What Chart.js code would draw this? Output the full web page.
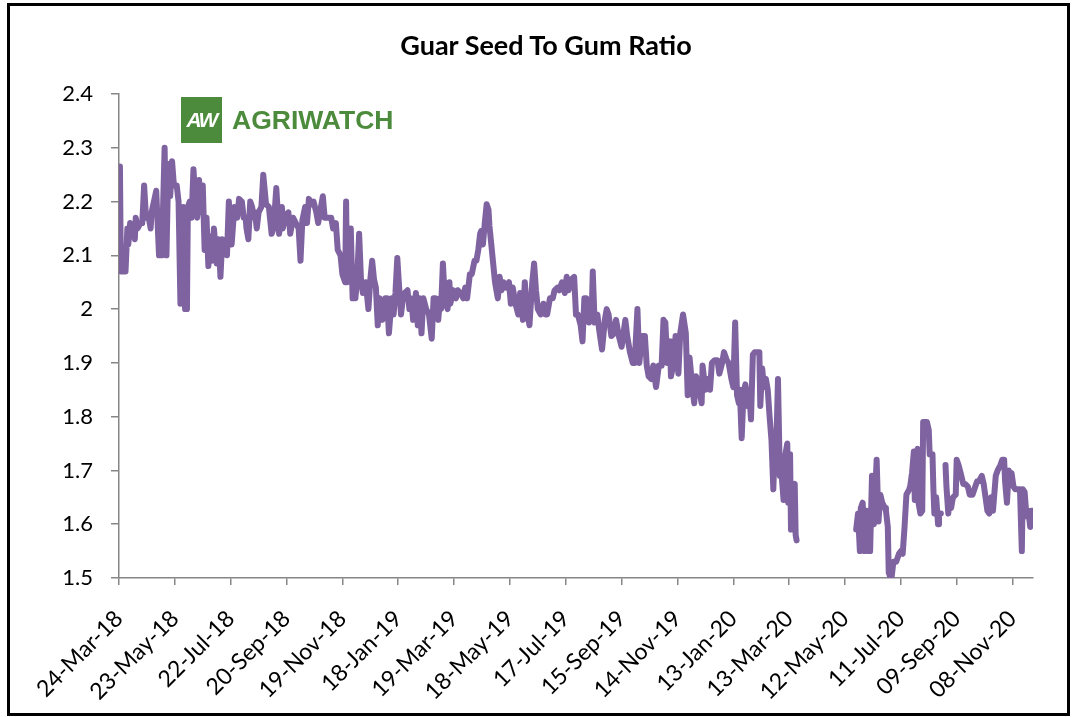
<!DOCTYPE html>
<html>
<head>
<meta charset="utf-8">
<script src="https://cdn.jsdelivr.net/npm/chart.js@4.4.1/dist/chart.umd.min.js"></script>
<style>
  html, body { margin: 0; padding: 0; background: #fff; }
  #wrap { position: relative; width: 1073px; height: 717px; overflow: hidden; }
  #chart { position: absolute; left: 0; top: 0; }
  #title { position: absolute; left: 0; top: 28px; width: 1092px; text-align: center;
           font: bold 27px Lato, "Open Sans", sans-serif; color: #000; }
  #frame { position: absolute; left: 7px; top: 3px; width: 1063px; height: 713px;
           box-sizing: border-box; border: 3px solid #000; pointer-events: none; }
  #logo { position: absolute; left: 181px; top: 97px; height: 46px; display: flex; align-items: center; }
  #logo .box { width: 41px; height: 46px; background: #4b8b3b; color: #fff;
               font: italic bold 21px "Liberation Sans", Arial, sans-serif; letter-spacing: -2px;
               display: flex; align-items: center; justify-content: center; }
  #logo .name { margin-left: 10px; color: #4b8b3b; font: bold 26.5px "Liberation Sans", Arial, sans-serif; }
</style>
</head>
<body>
<div id="wrap">
  <canvas id="chart" width="1073" height="717"></canvas>
  <div id="title"></div>
  <div id="logo"><div class="box">AW</div><div class="name">AGRIWATCH</div></div>
  <div id="frame"></div>
</div>
<script>
// Guar seed / gum ratio, days counted from 24-Mar-2018 (null = no quotes)
const startLabel = '24-Mar-18';
const axisEndLabel = '30-Nov-20';
const chartTitle = 'Guar Seed To Gum Ratio';

const tickLabels = ['24-Mar-18', '23-May-18', '22-Jul-18', '20-Sep-18', '19-Nov-18',
  '18-Jan-19', '19-Mar-19', '18-May-19', '17-Jul-19', '15-Sep-19', '14-Nov-19',
  '13-Jan-20', '13-Mar-20', '12-May-20', '11-Jul-20', '09-Sep-20', '08-Nov-20'];

const yTicks = [1.5, 1.6, 1.7, 1.8, 1.9, 2.0, 2.1, 2.2, 2.3, 2.4];

const dayOffsets = [
  1, 2, 7, 9, 10, 12, 15, 17, 18, 20, 23, 25, 27, 29, 32, 34, 35, 40, 43, 46,
  49, 51, 53, 55, 57, 59, 62, 64, 66, 68, 69, 71, 73, 74, 76, 78, 80, 82, 84, 86,
  88, 90, 92, 94, 96, 98, 100, 102, 105, 107, 109, 111, 114, 116, 118, 121, 124, 127, 129, 132,
  134, 136, 137, 139, 141, 143, 145, 146, 148, 150, 153, 155, 158, 161, 164, 166, 169, 172, 175, 176,
  179, 182, 184, 187, 190, 193, 195, 197, 200, 202, 204, 207, 209, 212, 214, 217, 219, 221, 225, 228,
  230, 233, 235, 238, 240, 243, 244, 245, 247, 249, 251, 253, 254, 256, 258, 260, 262, 265, 268, 270,
  272, 274, 276, 278, 280, 283, 286, 288, 290, 293, 295, 297, 299, 301, 303, 305, 307, 310, 312, 314,
  316, 319, 321, 323, 325, 327, 330, 333, 336, 338, 340, 343, 345, 346, 348, 350, 353, 355, 356, 359,
  362, 364, 367, 370, 372, 374, 377, 379, 382, 384, 386, 388, 389, 391, 393, 395, 397, 398, 400, 402,
  404, 407, 409, 411, 413, 416, 419, 421, 423, 426, 429, 431, 434, 436, 438, 441, 444, 446, 448, 450,
  453, 456, 458, 460, 463, 466, 468, 471, 473, 476, 479, 481, 483, 486, 489, 491, 493, 496, 498, 500,
  502, 505, 508, 509, 511, 514, 516, 519, 522, 524, 526, 529, 532, 534, 537, 540, 542, 544, 546, 549,
  552, 554, 557, 559, 562, 565, 567, 569, 572, 574, 577, 580, 583, 585, 587, 589, 592, 593, 596, 598,
  601, 603, 606, 609, 611, 613, 616, 618, 620, 623, 626, 627, 630, 632, 635, 637, 640, 643, 645, 648,
  650, 653, 655, 658, 660, 662, 664, 666, 667, 669, 671, 673, 675, 677, 679, 681, 683, 686, 688, 689,
  691, 693, 695, 697, 699, 701, 703, 704, 706, 708, 710, 712, 714, 716, 718, 719, 721, 722, 724, 726,
  727, 728, 760,
  792, 794, 796, 797, 799, 801, 803, 805, 806, 807, 809, 811, 813, 814, 816, 818, 820, 823, 824, 826,
  827, 829, 830, 832, 835, 838, 840, 842, 844, 846, 849, 850, 852, 854, 855, 856, 858, 859, 861, 863,
  864, 868, 870, 871, 874, 875, 876, 878, 880, 881, 883, 885,
  888, 889, 891, 892, 894, 896, 899, 900, 902, 905, 907, 909, 912, 914, 917, 920, 922, 924, 927, 929,
  931, 933, 935, 937, 939, 942, 944, 947, 949, 951, 952, 954, 956, 957, 959, 961, 963, 966, 968, 970,
  971, 973, 975, 977, 979, 980, 981
];

const ratioValues = [
  2.265, 2.07, 2.07, 2.15, 2.12, 2.16, 2.15, 2.13, 2.17, 2.15, 2.16, 2.16, 2.23, 2.17, 2.17, 2.15, 2.18, 2.22, 2.10, 2.10,
  2.30, 2.10, 2.27, 2.21, 2.275, 2.23, 2.23, 2.20, 2.01, 2.02, 2.19, 2.00, 2.00, 2.19, 2.20, 2.17, 2.26, 2.20, 2.17, 2.24,
  2.18, 2.23, 2.11, 2.17, 2.08, 2.135, 2.09, 2.15, 2.085, 2.13, 2.06, 2.13, 2.12, 2.10, 2.20, 2.12, 2.19, 2.17, 2.205, 2.20,
  2.17, 2.17, 2.15, 2.13, 2.20, 2.19, 2.17, 2.18, 2.15, 2.18, 2.19, 2.25, 2.195, 2.19, 2.14, 2.15, 2.225, 2.14, 2.19, 2.15,
  2.175, 2.18, 2.14, 2.17, 2.16, 2.15, 2.09, 2.165, 2.19, 2.16, 2.205, 2.195, 2.20, 2.18, 2.16, 2.19, 2.21, 2.17, 2.17, 2.17,
  2.15, 2.16, 2.11, 2.10, 2.065, 2.05, 2.20, 2.05, 2.10, 2.15, 2.02, 2.07, 2.02, 2.06, 2.14, 2.055, 2.03, 2.05, 2.00, 2.055,
  2.09, 2.055, 2.04, 1.97, 2.02, 1.98, 2.02, 2.02, 1.955, 2.02, 1.99, 2.03, 2.095, 2.04, 1.99, 2.02, 2.03, 2.035, 2.00, 2.02,
  1.98, 2.03, 1.97, 2.02, 1.955, 2.02, 2.00, 1.99, 1.945, 2.02, 2.02, 1.98, 2.02, 2.00, 2.085, 2.02, 2.00, 2.05, 2.01, 2.035,
  2.02, 2.035, 2.03, 2.02, 2.04, 2.02, 2.065, 2.065, 2.09, 2.09, 2.11, 2.14, 2.145, 2.12, 2.16, 2.195, 2.185, 2.155, 2.12, 2.085,
  2.05, 2.02, 2.06, 2.035, 2.05, 2.04, 2.05, 2.01, 2.04, 2.01, 1.99, 2.03, 1.98, 2.05, 2.00, 1.97, 2.05, 2.085, 2.035, 2.00,
  1.99, 2.01, 1.99, 1.99, 2.02, 2.02, 2.035, 2.04, 2.035, 2.05, 2.03, 2.06, 2.035, 2.055, 2.06, 1.99, 1.99, 1.97, 1.94, 2.02,
  2.02, 1.975, 2.00, 2.07, 1.975, 1.99, 1.96, 1.925, 1.98, 2.00, 1.99, 1.95, 1.955, 1.98, 1.95, 1.93, 1.955, 1.98, 1.95, 1.92,
  1.90, 1.90, 2.00, 1.90, 1.95, 1.95, 1.895, 1.875, 1.87, 1.895, 1.855, 1.895, 1.895, 1.98, 1.975, 1.90, 1.94, 1.875, 1.90, 1.95,
  1.88, 1.955, 1.99, 1.955, 1.84, 1.91, 1.855, 1.825, 1.875, 1.855, 1.825, 1.895, 1.85, 1.87, 1.85, 1.90, 1.905, 1.905, 1.88, 1.90,
  1.92, 1.905, 1.90, 1.87, 1.855, 1.975, 1.84, 1.825, 1.85, 1.76, 1.845, 1.86, 1.82, 1.85, 1.795, 1.915, 1.92, 1.92, 1.92, 1.82,
  1.89, 1.855, 1.87, 1.85, 1.80, 1.757, 1.665, 1.715, 1.73, 1.87, 1.69, 1.69, 1.645, 1.73, 1.75, 1.64, 1.73, 1.59, 1.67, 1.675,
  1.58, 1.57, null,
  1.59, 1.62, 1.55, 1.63, 1.64, 1.55, 1.625, 1.55, 1.605, 1.55, 1.69, 1.60, 1.68, 1.72, 1.605, 1.655, 1.64, 1.63, 1.625, 1.595,
  1.51, 1.50, 1.50, 1.53, 1.53, 1.545, 1.55, 1.545, 1.595, 1.655, 1.665, 1.67, 1.695, 1.735, 1.645, 1.73, 1.74, 1.64, 1.62, 1.625,
  1.79, 1.79, 1.775, 1.73, 1.73, 1.665, 1.62, 1.65, 1.60, 1.62, 1.62, null,
  1.71, 1.67, 1.62, 1.645, 1.63, 1.65, 1.655, 1.72, 1.71, 1.69, 1.675, 1.675, 1.67, 1.655, 1.655, 1.67, 1.68, 1.68, 1.69, 1.675,
  1.65, 1.625, 1.62, 1.65, 1.625, 1.69, 1.70, 1.71, 1.72, 1.72, 1.68, 1.64, 1.70, 1.685, 1.695, 1.67, 1.665, 1.665, 1.665, 1.55,
  1.665, 1.66, 1.615, 1.625, 1.595, 1.625, 1.625
];

const MONTHS = ['Jan', 'Feb', 'Mar', 'Apr', 'May', 'Jun', 'Jul', 'Aug', 'Sep', 'Oct', 'Nov', 'Dec'];
function labelToUtc(s) {
  const [d, m, y] = s.split('-');
  return Date.UTC(2000 + Number(y), MONTHS.indexOf(m), Number(d));
}
const start = labelToUtc(startLabel);
const toDay = s => Math.round((labelToUtc(s) - start) / 86400000);
const tickDays = tickLabels.map(toDay);

const points = dayOffsets.map((d, i) => ({ x: d, y: ratioValues[i] }));

document.getElementById('title').textContent = chartTitle;

const FONT = 'Lato, "Open Sans", sans-serif';
const AXIS_GREY = '#868686';

new Chart(document.getElementById('chart'), {
  type: 'line',
  data: {
    datasets: [{
      label: chartTitle,
      data: points,
      borderColor: '#7f63a1',
      borderWidth: 6,
      borderCapStyle: 'round',
      borderJoinStyle: 'round',
      pointRadius: 0,
      tension: 0,
      spanGaps: false,
      fill: false
    }]
  },
  options: {
    responsive: false,
    animation: false,
    devicePixelRatio: 1,
    layout: { padding: { left: 0, right: 40, top: 94, bottom: 0 } },
    plugins: {
      legend: { display: false },
      tooltip: { enabled: false },
      title: { display: false }
    },
    scales: {
      x: {
        type: 'linear',
        min: 0,
        max: toDay(axisEndLabel),
        afterBuildTicks: s => { s.ticks = tickDays.map(v => ({ value: v })); },
        afterFit: s => { s.height = 139; },
        grid: { display: true, drawOnChartArea: false, drawTicks: true, tickLength: 7, color: AXIS_GREY, lineWidth: 1.5 },
        border: { display: true, color: AXIS_GREY, width: 1.5 },
        ticks: {
          autoSkip: false,
          maxRotation: 45,
          minRotation: 45,
          padding: 20,
          color: '#000',
          font: { family: FONT, size: 23 },
          callback: v => tickLabels[tickDays.indexOf(v)]
        }
      },
      y: {
        min: 1.5,
        max: 2.4,
        afterBuildTicks: s => { s.ticks = yTicks.map(v => ({ value: v })); },
        afterFit: s => { s.width = 119; },
        grid: { display: true, drawOnChartArea: false, drawTicks: true, tickLength: 8, color: AXIS_GREY, lineWidth: 1.5 },
        border: { display: true, color: AXIS_GREY, width: 1.5 },
        ticks: {
          padding: 18,
          color: '#000',
          font: { family: FONT, size: 22 },
          callback: v => String(Math.round(v * 10) / 10)
        }
      }
    }
  }
});
</script>
</body>
</html>
